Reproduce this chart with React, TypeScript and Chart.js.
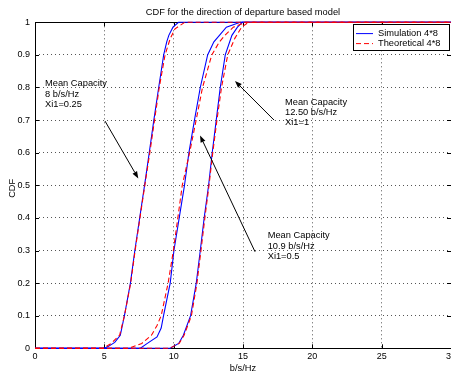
import React, { useEffect, useRef } from 'react';
import { Chart, registerables } from 'chart.js';

Chart.register(...registerables);

// ---- Data ----
const xTicks = [0, 5, 10, 15, 20, 25, 30];
const xTickLabels = ['0', '5', '10', '15', '20', '25', '30'];
const yTicks = [0, 0.1, 0.2, 0.3, 0.4, 0.5, 0.6, 0.7, 0.8, 0.9, 1];
const yTickLabels = ['0', '0.1', '0.2', '0.3', '0.4', '0.5', '0.6', '0.7', '0.8', '0.9', '1'];

// Mean capacity 8 b/s/Hz, Xi1 = 0.25
const sim8X = [0, 5.0, 5.3, 5.75, 6.15, 6.45, 6.88, 7.2, 7.55, 7.9, 8.24, 8.57, 8.92, 9.28, 9.5, 9.65, 9.95, 10.35, 30];
const sim8Y = [0, 0, 0.006, 0.018, 0.04, 0.1, 0.2, 0.3, 0.4, 0.5, 0.6, 0.7, 0.8, 0.9, 0.94, 0.96, 0.985, 1, 1];
const theo8X = [0, 4.9, 5.5, 6.1, 6.45, 6.9, 7.22, 7.57, 7.92, 8.28, 8.62, 8.96, 9.38, 9.75, 10.1, 10.8, 30];
const theo8Y = [0, 0, 0.015, 0.04, 0.1, 0.2, 0.3, 0.4, 0.5, 0.6, 0.7, 0.8, 0.9, 0.95, 0.98, 1, 1];

// Mean capacity 10.9 b/s/Hz, Xi1 = 0.5
const sim109X = [0, 7.6, 8.1, 8.8, 9.1, 9.27, 9.75, 10.02, 10.4, 10.78, 11.1, 11.5, 11.92, 12.45, 12.9, 13.3, 13.8, 14.8, 30];
const sim109Y = [0, 0, 0.015, 0.035, 0.062, 0.1, 0.2, 0.3, 0.4, 0.5, 0.6, 0.7, 0.8, 0.9, 0.94, 0.96, 0.985, 1, 1];
const theo109X = [0, 6.75, 7.7, 8.4, 8.8, 9.1, 9.6, 9.98, 10.3, 10.62, 11.15, 11.62, 12.08, 12.75, 13.3, 13.7, 14.3, 15.2, 30];
const theo109Y = [0, 0, 0.015, 0.04, 0.07, 0.1, 0.2, 0.3, 0.4, 0.5, 0.6, 0.7, 0.8, 0.9, 0.94, 0.96, 0.985, 1, 1];

// Mean capacity 12.50 b/s/Hz, Xi1 = 1
const sim125X = [0, 9.75, 10.36, 10.7, 11.22, 11.63, 11.92, 12.2, 12.52, 12.78, 13.07, 13.36, 13.72, 14.2, 14.6, 14.95, 30];
const sim125Y = [0, 0, 0.015, 0.04, 0.1, 0.2, 0.3, 0.4, 0.5, 0.6, 0.7, 0.8, 0.9, 0.96, 0.985, 1, 1];
const theo125X = [0, 9.7, 10.4, 10.75, 11.28, 11.68, 11.97, 12.25, 12.55, 12.82, 13.12, 13.45, 13.9, 14.4, 14.9, 15.4, 30];
const theo125Y = [0, 0, 0.015, 0.04, 0.1, 0.2, 0.3, 0.4, 0.5, 0.6, 0.7, 0.8, 0.9, 0.95, 0.985, 1, 1];

const legendLabels = ['Simulation 4*8', 'Theoretical 4*8'];
const titleText = 'CDF for the direction of departure based model';
const xAxisLabel = 'b/s/Hz';
const yAxisLabel = 'CDF';

// annotation text (data coords of first line) and arrow (from -> to, data coords)
const annotationLines = [
  ['Mean Capacity', '8 b/s/Hz', 'Xi1=0.25'],
  ['Mean Capacity', '12.50 b/s/Hz', 'Xi1=1'],
  ['Mean Capacity', '10.9 b/s/Hz', 'Xi1=0.5'],
];
const annotationTextX = [0.72, 18.03, 16.78];
const annotationTextY = [0.811, 0.754, 0.345];
const arrowFromX = [5.05, 17.24, 15.87];
const arrowFromY = [0.697, 0.7, 0.296];
const arrowToX = [7.45, 14.42, 11.9];
const arrowToY = [0.521, 0.82, 0.653];

const FONT = '"Liberation Sans", Arial, Helvetica, sans-serif';
const BLUE = '#0000ff';
const RED = '#ff0000';
const RED_DASH = [5, 3];

const zip = (xs: number[], ys: number[]) => xs.map((x, i) => ({ x, y: ys[i] }));

const overlayPlugin = {
  id: 'matlabOverlay',
  beforeDatasetsDraw(chart: any) {
    const { ctx, chartArea: a } = chart;
    const xs = chart.scales.x;
    const ys = chart.scales.y;
    ctx.save();
    ctx.strokeStyle = '#000';
    ctx.lineWidth = 1;
    ctx.setLineDash([]);
    ctx.beginPath();
    const tl = 4;
    xTicks.forEach((v) => {
      const px = Math.round(xs.getPixelForValue(v)) + 0.5;
      ctx.moveTo(px, a.bottom);
      ctx.lineTo(px, a.bottom - tl);
      ctx.moveTo(px, a.top);
      ctx.lineTo(px, a.top + tl);
    });
    yTicks.forEach((v) => {
      const py = Math.round(ys.getPixelForValue(v)) + 0.5;
      ctx.moveTo(a.left, py);
      ctx.lineTo(a.left + tl, py);
      ctx.moveTo(a.right, py);
      ctx.lineTo(a.right - tl, py);
    });
    ctx.stroke();
    ctx.strokeRect(Math.round(a.left) + 0.5, Math.round(a.top) + 0.5, Math.round(a.right - a.left), Math.round(a.bottom - a.top));
    ctx.restore();
  },
  afterDatasetsDraw(chart: any) {
    const { ctx, chartArea: a } = chart;
    const xs = chart.scales.x;
    const ys = chart.scales.y;
    ctx.save();
    ctx.fillStyle = '#000';
    ctx.font = `9.3px ${FONT}`;
    // title
    ctx.textAlign = 'center';
    ctx.textBaseline = 'middle';
    ctx.fillText(titleText, (a.left + a.right) / 2, a.top - 9.6);
    // x label
    ctx.fillText(xAxisLabel, (a.left + a.right) / 2, a.bottom + 20);
    // y label
    ctx.save();
    ctx.translate(12, (a.top + a.bottom) / 2 + 3);
    ctx.rotate(-Math.PI / 2);
    ctx.fillText(yAxisLabel, 0, 0);
    ctx.restore();

    // annotations
    ctx.textAlign = 'left';
    annotationLines.forEach((lines, i) => {
      const tx = xs.getPixelForValue(annotationTextX[i]);
      const ty = ys.getPixelForValue(annotationTextY[i]);
      lines.forEach((l, j) => ctx.fillText(l, tx, ty + j * 10.2));
      const x1 = xs.getPixelForValue(arrowFromX[i]);
      const y1 = ys.getPixelForValue(arrowFromY[i]);
      const x2 = xs.getPixelForValue(arrowToX[i]);
      const y2 = ys.getPixelForValue(arrowToY[i]);
      const ang = Math.atan2(y2 - y1, x2 - x1);
      const hl = 7;
      const hw = 2.6;
      const bx = x2 - hl * Math.cos(ang);
      const by = y2 - hl * Math.sin(ang);
      ctx.strokeStyle = '#000';
      ctx.lineWidth = 1;
      ctx.beginPath();
      ctx.moveTo(x1, y1);
      ctx.lineTo(bx, by);
      ctx.stroke();
      ctx.beginPath();
      ctx.moveTo(x2, y2);
      ctx.lineTo(bx + hw * Math.sin(ang), by - hw * Math.cos(ang));
      ctx.lineTo(bx - hw * Math.sin(ang), by + hw * Math.cos(ang));
      ctx.closePath();
      ctx.fill();
    });

    // legend
    const lx = a.right - 98;
    const ly = a.top + 2;
    const lw = 95.5;
    const lh = 26;
    ctx.fillStyle = '#fff';
    ctx.fillRect(lx, ly, lw, lh);
    ctx.strokeStyle = '#000';
    ctx.lineWidth = 1;
    ctx.strokeRect(Math.round(lx) + 0.5, Math.round(ly) + 0.5, Math.round(lw), Math.round(lh));
    const rows = [
      { color: BLUE, dash: [] as number[] },
      { color: RED, dash: RED_DASH },
    ];
    rows.forEach((r, i) => {
      const ry = ly + 9.3 + i * 10;
      ctx.strokeStyle = r.color;
      ctx.setLineDash(r.dash);
      ctx.beginPath();
      ctx.moveTo(lx + 3, ry);
      ctx.lineTo(lx + 20, ry);
      ctx.stroke();
      ctx.setLineDash([]);
      ctx.fillStyle = '#000';
      ctx.textAlign = 'left';
      ctx.fillText(legendLabels[i], lx + 25, ry);
    });
    ctx.restore();
  },
};

export default function App() {
  const ref = useRef<HTMLCanvasElement | null>(null);
  useEffect(() => {
    if (!ref.current) return;
    const mk = (label: string, xs: number[], ys: number[], color: string, dash: number[]) => ({
      label,
      data: zip(xs, ys),
      borderColor: color,
      backgroundColor: color,
      borderWidth: 1.1,
      borderDash: dash,
      pointRadius: 0,
      tension: 0,
      fill: false,
      clip: 4,
    });
    const chart = new Chart(ref.current, {
      type: 'line',
      data: {
        datasets: [
          mk('Theoretical 4*8', theo8X, theo8Y, RED, RED_DASH),
          mk('Theoretical 4*8', theo109X, theo109Y, RED, RED_DASH),
          mk('Theoretical 4*8', theo125X, theo125Y, RED, RED_DASH),
          mk('Simulation 4*8', sim8X, sim8Y, BLUE, []),
          mk('Simulation 4*8', sim109X, sim109Y, BLUE, []),
          mk('Simulation 4*8', sim125X, sim125Y, BLUE, []),
        ],
      },
      options: {
        animation: false,
        responsive: false,
        events: [],
        layout: { padding: { left: 0, right: 29, top: 22.3, bottom: 0 } },
        plugins: { legend: { display: false }, tooltip: { enabled: false }, title: { display: false } },
        scales: {
          x: {
            type: 'linear',
            min: 0,
            max: 30,
            afterBuildTicks: (s: any) => {
              s.ticks = xTicks.map((v) => ({ value: v }));
            },
            afterFit: (s: any) => {
              s.height = 26.7;
              s.paddingLeft = 0;
              s.paddingRight = 0;
            },
            ticks: {
              autoSkip: false,
              maxRotation: 0,
              padding: 3,
              color: '#000',
              font: { family: FONT, size: 9 },
              callback: (_v: any, i: number) => xTickLabels[i],
            },
            grid: { color: '#555', lineWidth: 1, drawTicks: false },
            border: { display: false, dash: [1, 3] },
          },
          y: {
            type: 'linear',
            min: 0,
            max: 1,
            afterBuildTicks: (s: any) => {
              s.ticks = yTicks.map((v) => ({ value: v }));
            },
            afterFit: (s: any) => {
              s.width = 35;
              s.paddingTop = 0;
              s.paddingBottom = 0;
            },
            ticks: {
              autoSkip: false,
              padding: 5,
              color: '#000',
              font: { family: FONT, size: 9 },
              callback: (_v: any, i: number) => yTickLabels[i],
            },
            grid: { color: '#555', lineWidth: 1, drawTicks: false },
            border: { display: false, dash: [1, 3] },
          },
        },
      },
      plugins: [overlayPlugin],
    });
    return () => chart.destroy();
  }, []);
  return (
    <div style={{ position: 'fixed', left: 0, top: 0, width: 451, height: 375, overflow: 'hidden', background: '#fff' }}>
      <canvas ref={ref} width={480} height={375} style={{ display: 'block' }} />
    </div>
  );
}
